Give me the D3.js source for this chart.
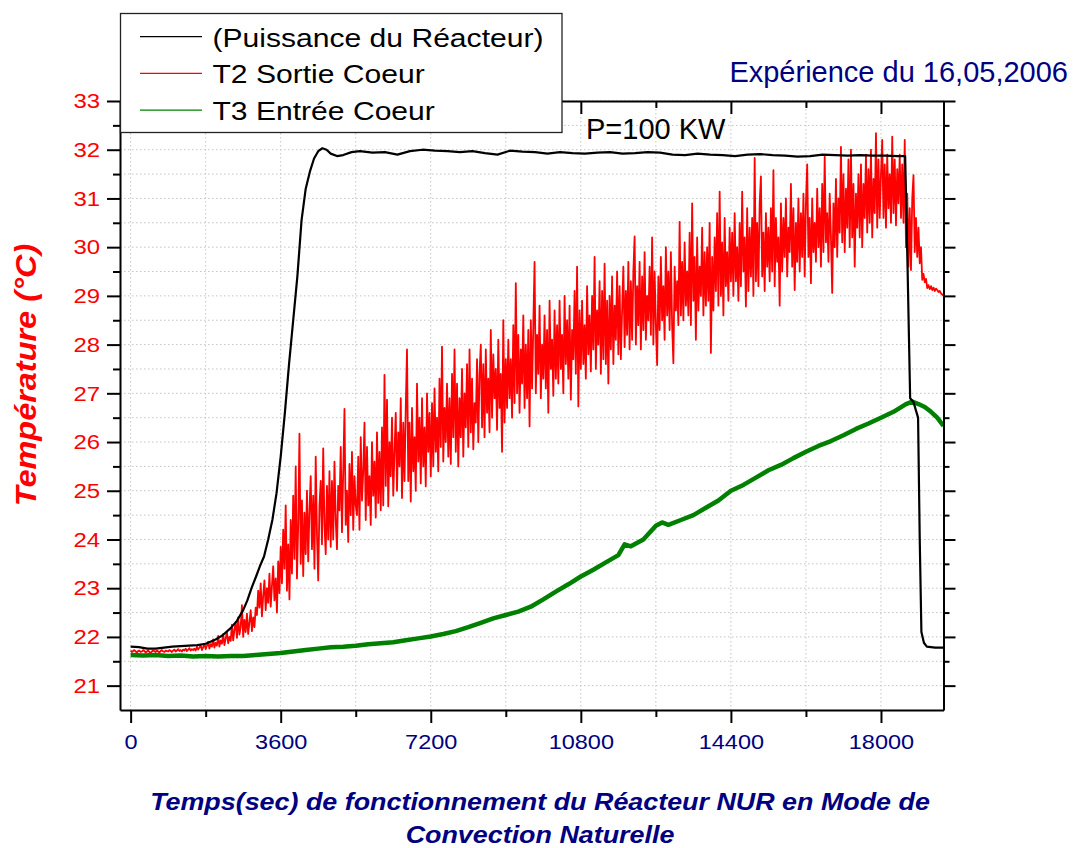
<!DOCTYPE html>
<meta charset="utf-8">
<html>
<head>
<script src="https://d3js.org/d3.v7.min.js"></script>
<style>
  body { margin: 0; background: #fff; }
  text { font-family: "Liberation Sans", Arial, sans-serif; }
</style>
</head>
<body>
<div id="my_dataviz"></div>
<script>
// ---- values (time in s, temperature in °C) ----

// T2 Sortie Coeur, one reading every 30 s from t = 0
const t2Step = 30;
const t2Sortie = [
  // 0 - 1500
  21.72,21.69,21.71,21.73,21.70,21.68,21.71,21.72,21.69,21.70,
  21.73,21.71,21.68,21.70,21.72,21.69,21.67,21.70,21.72,21.71,
  21.69,21.72,21.70,21.68,21.71,21.73,21.70,21.69,21.72,21.71,
  21.70,21.73,21.71,21.69,21.72,21.74,21.70,21.72,21.75,21.71,
  21.73,21.70,21.74,21.72,21.76,21.71,21.74,21.77,21.72,21.75,
  21.73,
  // 1530 - 2400
  21.76,21.72,21.80,21.74,21.78,21.83,21.73,21.79,21.86,21.75,
  21.82,21.90,21.76,21.85,21.80,21.95,21.78,21.88,21.82,22.02,
  21.80,21.93,21.86,22.06,21.83,21.97,22.10,21.87,22.00,21.92,
  // 2430 - 3000
  22.25,21.93,22.15,22.30,21.98,22.40,22.05,22.20,22.65,22.00,
  22.35,22.10,22.48,22.06,22.30,22.55,22.12,22.40,22.20,22.60,
  // 3030 - 3600
  22.45,22.95,22.60,23.10,22.42,22.85,23.16,22.55,23.00,22.70,
  23.30,22.62,23.05,23.45,22.75,23.20,22.50,23.55,22.90,23.85,
  // 3630 - 4200
  23.10,24.20,23.40,24.70,22.95,23.90,22.77,24.40,23.30,24.90,
  23.60,25.50,23.20,24.30,26.17,23.50,24.80,23.25,24.55,23.70,
  // 4230 - 4800
  25.00,23.55,24.60,25.30,23.80,24.90,23.40,25.70,24.10,23.16,
  24.70,25.20,23.90,25.87,24.30,23.70,25.10,24.00,25.40,23.85,
  // 4830 - 5400
  25.20,24.00,25.60,24.40,23.80,25.10,24.60,25.90,24.15,25.40,
  26.68,24.30,25.00,23.95,25.55,24.50,25.80,24.20,25.30,24.70,
  // 5430 - 6000
  24.50,25.70,24.20,26.10,24.80,25.40,26.40,24.40,25.90,24.70,
  25.30,24.30,26.00,24.90,25.60,24.45,26.20,24.75,25.80,24.60,
  // 6030 - 6600
  26.30,24.70,27.38,25.10,26.87,24.68,26.00,25.30,26.50,24.90,
  25.80,26.60,25.00,26.20,25.50,26.90,24.85,26.40,25.20,26.70,
  // 6630 - 7200
  27.90,25.20,26.40,24.78,26.70,25.40,26.10,25.00,27.20,25.60,
  26.50,25.15,26.90,25.50,26.30,25.09,27.00,25.80,26.60,25.30,
  // 7230 - 7800
  26.80,25.50,27.10,25.80,26.50,25.40,27.30,25.90,27.96,25.60,
  26.70,26.00,27.20,25.70,26.90,25.55,27.40,26.10,27.90,25.80,
  // 7830 - 8400
  27.20,25.50,26.90,26.10,27.50,25.70,27.00,26.30,27.60,25.90,
  27.90,26.20,27.30,25.85,26.80,26.40,27.70,26.00,27.40,28.00,
  // 8430 - 9000
  26.30,27.60,26.10,27.90,26.60,27.30,26.20,28.30,26.50,27.80,
  26.90,27.50,26.25,28.10,26.70,27.40,25.80,28.50,26.40,27.70,
  // 9030 - 9600
  26.70,28.10,26.90,27.70,26.50,28.40,26.80,29.26,27.00,28.20,
  26.60,27.90,27.20,28.60,26.70,28.00,26.90,28.30,26.32,28.50,
  // 9630 - 10200
  27.10,28.40,29.70,27.00,28.20,27.40,28.80,26.90,28.00,27.30,
  28.60,27.10,28.30,26.60,28.90,27.50,28.10,26.95,28.70,27.30,
  // 10230 - 10800
  28.40,27.20,28.90,27.50,28.20,27.00,29.00,27.60,28.50,27.30,
  28.80,26.87,28.30,27.70,29.10,27.40,29.60,26.73,28.70,27.50,
  // 10830 - 11400
  28.90,27.60,28.40,27.30,29.20,27.80,28.60,27.45,29.00,27.90,
  29.80,27.50,28.70,28.00,29.30,27.40,29.10,27.70,29.66,27.60,
  // 11430 - 12000
  28.90,27.20,29.00,27.90,29.40,27.60,28.80,28.10,29.50,27.80,
  29.20,27.70,28.70,29.60,27.95,29.10,28.20,29.70,27.90,29.30,
  // 12030 - 12600
  28.10,29.50,30.22,28.00,29.20,28.40,29.70,27.90,29.40,28.30,
  29.90,28.10,29.00,28.50,29.60,28.20,30.20,28.00,29.50,28.40,
  // 12630 - 13200
  27.58,29.40,28.30,29.80,28.50,29.20,28.10,30.00,28.60,29.50,
  28.30,29.90,28.40,27.62,29.60,28.70,29.30,28.40,30.52,28.60,
  // 13230 - 13800
  29.70,28.50,30.10,28.80,29.50,28.60,30.30,28.40,30.90,28.90,
  29.80,28.10,30.20,28.70,29.60,29.00,30.40,28.60,29.90,28.80,
  // 13830 - 14400
  30.00,28.90,30.50,27.83,29.80,28.70,30.20,29.10,30.70,28.80,
  31.14,29.00,30.10,28.60,30.60,29.20,29.90,28.90,30.40,29.30,
  // 14430 - 15000
  30.30,29.00,30.70,29.30,30.00,28.90,30.50,29.20,31.14,29.50,
  30.20,28.78,30.80,29.10,30.40,29.40,30.60,29.00,31.83,29.30,
  // 15030 - 15600
  30.50,29.20,30.90,31.45,29.40,30.30,29.10,30.70,29.60,30.40,
  29.30,30.80,29.50,31.58,29.20,30.60,29.70,30.20,28.80,30.90,
  // 15630 - 16200
  29.50,30.60,29.80,31.00,29.40,30.40,29.90,31.30,29.60,30.80,
  29.12,30.50,29.70,31.00,29.50,30.70,29.80,31.10,29.40,30.90,
  // 16230 - 16800
  31.70,29.80,30.60,29.26,31.00,29.90,30.50,29.70,31.20,30.00,
  30.80,29.60,31.30,29.90,31.86,30.10,30.70,29.70,31.10,30.20,
  // 16830 - 17400
  29.06,30.90,30.00,31.40,29.80,31.00,30.30,32.06,30.10,31.50,
  29.90,31.20,30.40,31.80,30.00,32.00,30.20,31.30,29.60,31.10,
  // 17430 - 18000
  30.40,31.50,30.20,31.70,30.00,31.30,30.60,31.90,30.30,31.60,
  30.50,32.00,30.20,31.40,30.70,32.34,30.40,31.80,30.60,31.50,
  // 18030 - 18600
  32.20,30.60,31.70,30.40,31.90,30.80,31.50,30.50,32.27,30.70,
  31.80,30.45,31.60,30.90,31.90,30.60,31.70,30.50,32.20,30.00,
  // 18630 - 19500
  31.10,29.60,30.80,29.53,31.00,31.48,29.90,30.60,29.80,30.40,
  29.67,30.00,29.33,29.45,29.28,29.35,29.16,29.22,29.14,29.20,
  29.12,29.17,29.10,29.15,29.12,29.08,29.10,29.05,29.03,29.00
];

// T3 Entrée Coeur
const t3Time = [0,300,600,900,1200,1500,1800,2100,2400,2700,3000,3300,3600,3900,4200,4500,4800,5100,5400,5700,
  6000,6300,6600,6900,7200,7500,7800,8100,8400,8700,9000,9300,9600,9900,10200,10500,10800,11100,11400,11700,
  11850,12000,12300,12600,12750,12900,13200,13500,13800,14100,14400,14700,15000,15300,15600,15900,16200,16500,16800,17100,
  17400,17700,18000,18300,18600,18750,18900,19050,19200,19350,19500];
const t3Entree = [21.63,21.62,21.63,21.61,21.62,21.60,21.61,21.60,21.61,21.61,21.63,21.65,21.67,21.70,21.73,21.76,21.79,21.80,21.82,21.85,
  21.87,21.89,21.93,21.97,22.01,22.06,22.12,22.20,22.29,22.38,22.45,22.52,22.62,22.77,22.93,23.08,23.24,23.38,23.53,23.68,
  23.90,23.86,24.00,24.28,24.35,24.30,24.40,24.50,24.65,24.80,25.00,25.12,25.27,25.42,25.53,25.67,25.80,25.92,26.02,26.14,
  26.27,26.38,26.50,26.62,26.78,26.83,26.78,26.72,26.62,26.50,26.33];

// Puissance du Réacteur (drawn on the temperature scale)
const powerTime = [0,200,400,600,800,1000,1200,1400,1600,1800,2000,2200,2400,2550,2700,2800,2900,3000,3100,3200,
  3300,3400,3500,3600,3700,3800,3900,4000,4100,4200,4300,4400,4500,4600,4700,4800,4950,5100,5300,5500,
  5800,6100,6400,6700,7000,7300,7600,7900,8200,8500,8800,9100,9400,9700,10000,10300,10600,10900,11200,11500,
  11800,12100,12400,12700,13000,13300,13600,13900,14200,14500,14800,15100,15400,15700,16000,16300,16600,16900,17200,17500,
  17800,18100,18400,18580,18640,18700,18780,18890,18930,18970,19030,19100,19300,19500];
const powerCurve = [21.80,21.79,21.76,21.76,21.78,21.80,21.81,21.82,21.83,21.86,21.93,22.03,22.18,22.33,22.55,22.75,23.00,23.22,23.45,23.65,
  24.00,24.40,24.95,25.70,26.60,27.60,28.50,29.40,30.55,31.20,31.55,31.82,31.97,32.03,32.00,31.92,31.87,31.89,31.95,31.97,
  31.94,31.95,31.90,31.97,32.00,31.98,31.97,31.95,31.97,31.93,31.90,31.98,31.96,31.95,31.92,31.95,31.93,31.92,31.94,31.95,
  31.92,31.93,31.95,31.94,31.90,31.89,31.92,31.90,31.89,31.87,31.90,31.91,31.89,31.88,31.86,31.87,31.90,31.89,31.88,31.89,
  31.88,31.88,31.87,31.87,29.50,26.90,26.82,26.50,24.00,22.10,21.88,21.80,21.78,21.78];

const xMajorTicks = [0, 3600, 7200, 10800, 14400, 18000];
const xMinorTicks = [1800, 5400, 9000, 12600, 16200];
const yMajorTicks = [21, 22, 23, 24, 25, 26, 27, 28, 29, 30, 31, 32, 33];
const yMinorTicks = [21.5, 22.5, 23.5, 24.5, 25.5, 26.5, 27.5, 28.5, 29.5, 30.5, 31.5, 32.5];

const legendLabels = ["(Puissance du Réacteur)", "T2 Sortie Coeur", "T3 Entrée Coeur"];

// ---- drawing ----
const navy = "#000080";
const W = 1081, H = 848;
const margin = {top: 101, right: 137.5, bottom: 138, left: 120},
    width = W - margin.left - margin.right,
    height = H - margin.top - margin.bottom;

// text in the reference is a bit wider than plain Arial
function stretch(sel, k) {
  sel.each(function() {
    const t = d3.select(this);
    const x0 = +t.attr("x") || 0;
    t.attr("x", x0 / k).attr("transform", `scale(${k},1)`);
  });
}

const svg = d3.select("#my_dataviz")
  .append("svg")
    .attr("width", W)
    .attr("height", H);
const g = svg.append("g")
    .attr("transform", `translate(${margin.left},${margin.top})`);

const x = d3.scaleLinear().domain([-255, 19500]).range([0, width]);
const y = d3.scaleLinear().domain([20.5, 33]).range([height, 0]);

// dotted grid on every tick
const grid = g.append("g")
    .attr("stroke", "#c4c4c4")
    .attr("stroke-width", 1)
    .attr("stroke-dasharray", "1.5,2.5");
grid.selectAll(".gx").data(xMajorTicks.concat(xMinorTicks)).join("line")
    .attr("class", "gx")
    .attr("x1", d => x(d)).attr("x2", d => x(d))
    .attr("y1", 0).attr("y2", height);
grid.selectAll(".gy").data(yMajorTicks.concat(yMinorTicks)).join("line")
    .attr("class", "gy")
    .attr("x1", 0).attr("x2", width)
    .attr("y1", d => y(d)).attr("y2", d => y(d));

// curves
g.append("clipPath").attr("id", "clip")
  .append("rect").attr("width", width).attr("height", height);
const plot = g.append("g").attr("clip-path", "url(#clip)");

plot.append("path")
    .datum(t2Sortie)
    .attr("fill", "none")
    .attr("stroke", "#ff0000")
    .attr("stroke-width", 1.8)
    .attr("stroke-linejoin", "round")
    .attr("d", d3.line()
      .x((d, i) => x(i * t2Step))
      .y(d => y(d)));

plot.append("path")
    .datum(t3Time)
    .attr("fill", "none")
    .attr("stroke", "#008000")
    .attr("stroke-width", 4.5)
    .attr("stroke-linejoin", "round")
    .attr("d", d3.line()
      .x(d => x(d))
      .y((d, i) => y(t3Entree[i])));

plot.append("path")
    .datum(powerTime)
    .attr("fill", "none")
    .attr("stroke", "#000000")
    .attr("stroke-width", 2.2)
    .attr("stroke-linejoin", "round")
    .attr("d", d3.line()
      .x(d => x(d))
      .y((d, i) => y(powerCurve[i])));

// axes
function styleAxis(a) {
  a.select(".domain").attr("stroke", "#000").attr("stroke-width", 2);
  a.selectAll(".tick line").attr("stroke", "#000").attr("stroke-width", 2);
}

const xAxis = g.append("g")
    .attr("transform", `translate(0,${height})`)
    .call(d3.axisBottom(x).tickValues(xMajorTicks).tickSize(13).tickSizeOuter(0).tickPadding(11).tickFormat(d3.format("d")));
styleAxis(xAxis);
xAxis.selectAll("text").attr("fill", navy).attr("font-size", 21).call(stretch, 1.12);
const xMinor = g.append("g")
    .attr("transform", `translate(0,${height})`)
    .call(d3.axisBottom(x).tickValues(xMinorTicks).tickSize(7).tickFormat(""));
xMinor.select(".domain").remove();
styleAxis(xMinor);

const xTop = g.append("g")
    .call(d3.axisTop(x).tickValues(xMajorTicks).tickSize(-13).tickSizeOuter(0).tickFormat(""));
styleAxis(xTop);
const xTopMinor = g.append("g")
    .call(d3.axisTop(x).tickValues(xMinorTicks).tickSize(-7).tickFormat(""));
xTopMinor.select(".domain").remove();
styleAxis(xTopMinor);

const yAxis = g.append("g")
    .call(d3.axisLeft(y).tickValues(yMajorTicks).tickSize(13).tickSizeOuter(0).tickPadding(7));
styleAxis(yAxis);
yAxis.selectAll("text").attr("fill", "#ff0000").attr("font-size", 21).call(stretch, 1.14);
const yMinor = g.append("g")
    .call(d3.axisLeft(y).tickValues(yMinorTicks).tickSize(7).tickFormat(""));
yMinor.select(".domain").remove();
styleAxis(yMinor);

const yRight = g.append("g")
    .attr("transform", `translate(${width},0)`)
    .call(d3.axisRight(y).tickValues(yMajorTicks).tickSize(12).tickSizeOuter(0).tickFormat(""));
styleAxis(yRight);
const yRightMinor = g.append("g")
    .attr("transform", `translate(${width},0)`)
    .call(d3.axisRight(y).tickValues(yMinorTicks).tickSize(6).tickFormat(""));
yRightMinor.select(".domain").remove();
styleAxis(yRightMinor);

// axis titles
svg.append("text")
    .attr("transform", "translate(36,375) rotate(-90) scale(1.12,1)")
    .attr("text-anchor", "middle")
    .attr("font-size", 29)
    .attr("font-weight", "bold")
    .attr("font-style", "italic")
    .attr("fill", "#ff0000")
    .text("Température (°C)");

const xTitle = svg.append("text")
    .attr("text-anchor", "middle")
    .attr("font-size", 24)
    .attr("font-weight", "bold")
    .attr("font-style", "italic")
    .attr("fill", navy)
    .attr("transform", "translate(540,0) scale(1.12,1)");
xTitle.append("tspan").attr("x", 0).attr("y", 810).text("Temps(sec) de fonctionnement du Réacteur NUR en Mode de");
xTitle.append("tspan").attr("x", 0).attr("y", 843).text("Convection Naturelle");

// annotations
svg.append("text")
    .attr("x", 586).attr("y", 138.5)
    .attr("font-size", 29)
    .attr("fill", "#000")
    .text("P=100 KW");

svg.append("text")
    .attr("x", 1068).attr("y", 82)
    .attr("text-anchor", "end")
    .attr("font-size", 29)
    .attr("fill", navy)
    .text("Expérience du 16,05,2006");

// legend
const legendColors = ["#000000", "#ff0000", "#008000"];
const legend = svg.append("g");
legend.append("rect")
    .attr("x", 120.5).attr("y", 13.5)
    .attr("width", 441.5).attr("height", 119)
    .attr("fill", "#fff")
    .attr("stroke", "#222")
    .attr("stroke-width", 1.3);
const rows = legend.selectAll(".row").data(legendLabels).join("g")
    .attr("class", "row")
    .attr("transform", (d, i) => `translate(0,${36.7 + i * 36.7})`);
rows.append("line")
    .attr("x1", 140).attr("x2", 202)
    .attr("stroke", (d, i) => legendColors[i])
    .attr("stroke-width", 1.2);
rows.append("text")
    .attr("x", 212.5).attr("y", 10)
    .attr("font-size", 25.5)
    .attr("fill", "#000")
    .text(d => d)
    .call(stretch, 1.18);
</script>
</body>
</html>
